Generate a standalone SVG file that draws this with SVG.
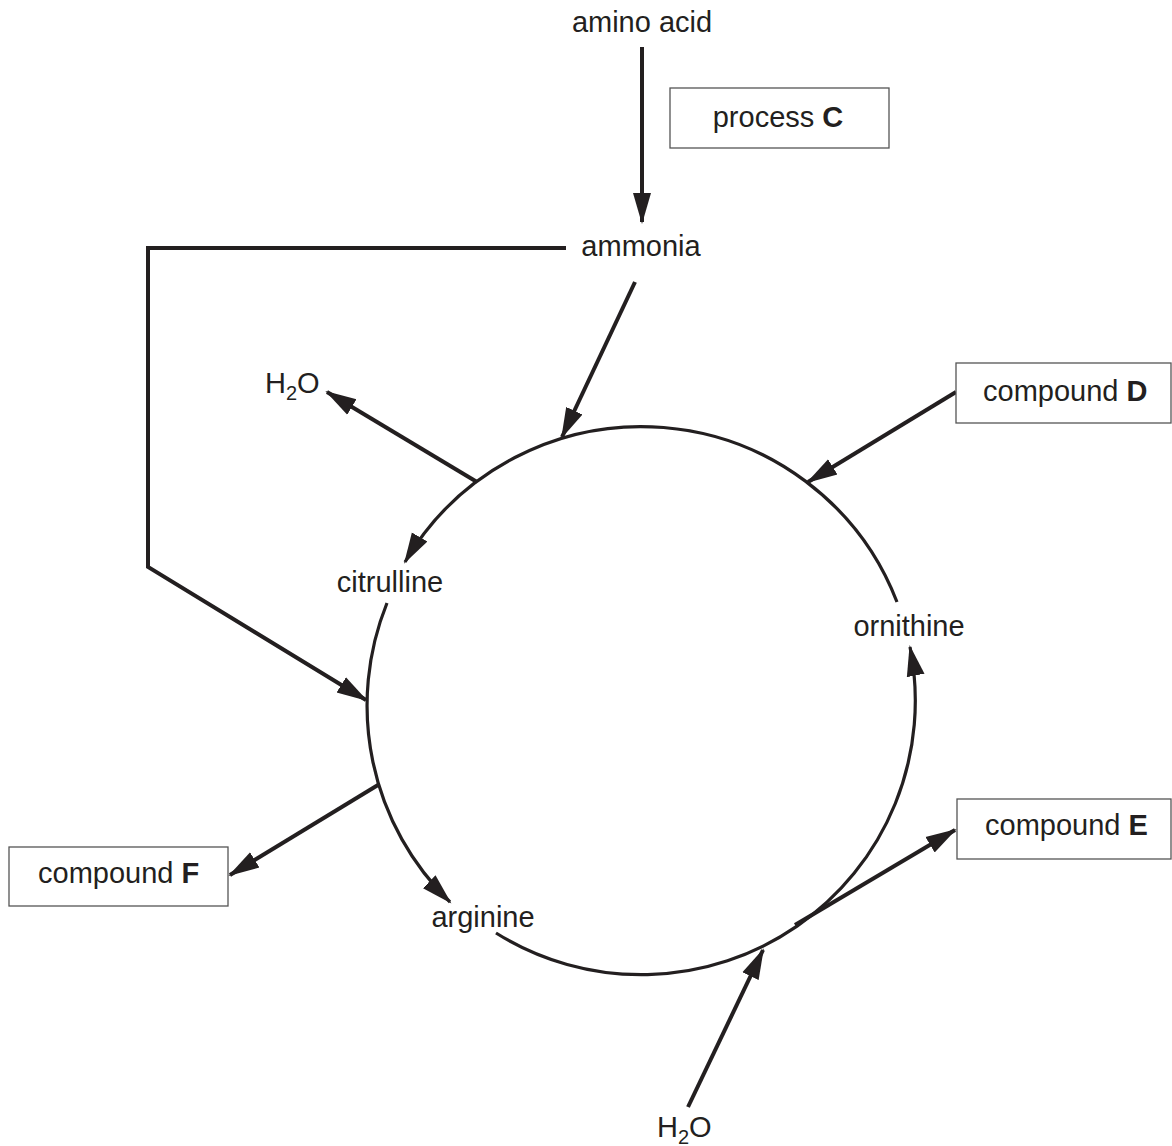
<svg xmlns="http://www.w3.org/2000/svg" width="1172" height="1146" viewBox="0 0 1172 1146">
<style>
text{font-family:"Liberation Sans",Arial,sans-serif;font-size:29px;fill:#231f20}
.b{font-weight:bold}
.box{fill:#fff;stroke:#555;stroke-width:1.3}
.ln{fill:none;stroke:#231f20;stroke-width:4}
.arc{fill:none;stroke:#231f20;stroke-width:3.2}
</style>
<defs>
<marker id="ah" markerUnits="userSpaceOnUse" markerWidth="32" markerHeight="20" viewBox="0 0 32 18" refX="29" refY="9" orient="auto">
<path d="M0,0 L31,9 L0,18 z" fill="#231f20"/>
</marker>
</defs>
<g id="connectors">
<line class="ln" x1="642" y1="47" x2="642" y2="222" marker-end="url(#ah)"/>
<line class="ln" x1="635" y1="282" x2="562" y2="437" marker-end="url(#ah)"/>
<polyline class="ln" points="566,248 148,248 148,567 366,700" marker-end="url(#ah)"/>
<line class="ln" x1="477" y1="482" x2="327" y2="392" marker-end="url(#ah)"/>
<line class="ln" x1="956" y1="392" x2="808" y2="482" marker-end="url(#ah)"/>
<line class="ln" x1="378" y1="785" x2="230" y2="875" marker-end="url(#ah)"/>
<line class="ln" x1="795" y1="925" x2="955" y2="830" marker-end="url(#ah)"/>
<line class="ln" x1="688" y1="1107" x2="763" y2="950" marker-end="url(#ah)"/>
<path class="arc" d="M897,602 A274,274 0 0 0 405,562" marker-end="url(#ah)"/>
<path class="arc" d="M387,603 A274,274 0 0 0 450,902" marker-end="url(#ah)"/>
<path class="arc" d="M496,933 A274,274 0 0 0 910,647" marker-end="url(#ah)"/>
</g>
<g id="amino-acid"><text x="642" y="32" text-anchor="middle">amino acid</text></g>
<g id="process-c"><rect class="box" x="670" y="88" width="219" height="60"/><text x="778" y="127" text-anchor="middle">process <tspan class="b">C</tspan></text></g>
<g id="ammonia"><text x="641" y="256" text-anchor="middle">ammonia</text></g>
<g id="h2o-left"><text x="265" y="393">H<tspan font-size="20" dy="7">2</tspan><tspan dy="-7">O</tspan></text></g>
<g id="compound-d"><rect class="box" x="956" y="363" width="215" height="60"/><text x="983" y="401">compound <tspan class="b">D</tspan></text></g>
<g id="citrulline"><text x="390" y="592" text-anchor="middle">citrulline</text></g>
<g id="ornithine"><text x="909" y="636" text-anchor="middle">ornithine</text></g>
<g id="compound-e"><rect class="box" x="957" y="799" width="214" height="60"/><text x="985" y="835">compound <tspan class="b">E</tspan></text></g>
<g id="compound-f"><rect class="box" x="9" y="847" width="219" height="59"/><text x="38" y="883">compound <tspan class="b">F</tspan></text></g>
<g id="arginine"><text x="483" y="927" text-anchor="middle">arginine</text></g>
<g id="h2o-bottom"><text x="657" y="1137">H<tspan font-size="20" dy="7">2</tspan><tspan dy="-7">O</tspan></text></g>
</svg>
